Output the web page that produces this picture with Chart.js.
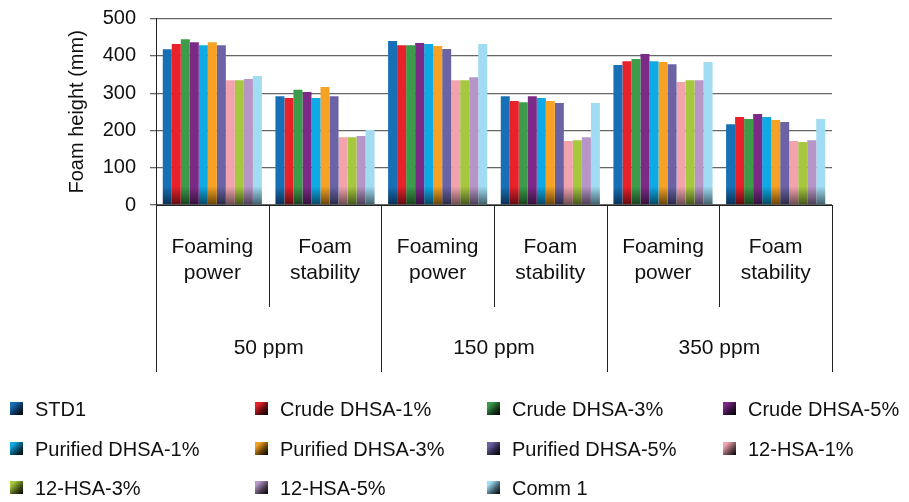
<!DOCTYPE html>
<html>
<head>
<meta charset="utf-8">
<script src="https://cdn.jsdelivr.net/npm/chart.js@4.4.0/dist/chart.umd.min.js"></script>
<style>
  body { margin: 0; background: #fff; }
  #wrap { position: relative; width: 909px; height: 502px; }
  #chart { position: absolute; left: 0; top: 0; }
  .item { position: absolute; font: 20px "Liberation Sans", Arial, sans-serif; color: #111; white-space: nowrap; line-height: 22px; }
  .box { position: absolute; left: -25px; top: 4px; width: 13px; height: 13px; }
</style>
</head>
<body>
<div id="wrap">
  <canvas id="chart" width="909" height="502"></canvas>
  <div id="legend"></div>
</div>
<script>
// categories
const innerLabels = [['Foaming', 'power'], ['Foam', 'stability'], ['Foaming', 'power'], ['Foam', 'stability'], ['Foaming', 'power'], ['Foam', 'stability']];
const outerLabels = ['50 ppm', '150 ppm', '350 ppm'];

// series
const seriesNames = ['STD1', 'Crude DHSA-1%', 'Crude DHSA-3%', 'Crude DHSA-5%', 'Purified DHSA-1%', 'Purified DHSA-3%', 'Purified DHSA-5%', '12-HSA-1%', '12-HSA-3%', '12-HSA-5%', 'Comm 1'];
const std1 = [418, 292, 440, 292, 376, 217];
const crude1 = [432, 287, 429, 279, 386, 236];
const crude3 = [445, 309, 429, 276, 392, 231];
const crude5 = [437, 303, 435, 292, 405, 244];
const purified1 = [429, 287, 432, 287, 386, 236];
const purified3 = [437, 317, 427, 279, 384, 228];
const purified5 = [429, 292, 419, 274, 378, 223];
const hsa1 = [335, 182, 335, 172, 330, 172];
const hsa3 = [335, 182, 335, 174, 335, 169];
const hsa5 = [338, 185, 343, 182, 335, 174];
const comm1 = [346, 201, 432, 274, 384, 231];
const seriesValues = [std1, crude1, crude3, crude5, purified1, purified3, purified5, hsa1, hsa3, hsa5, comm1];

// y ticks
const yTicks = [0, 100, 200, 300, 400, 500];

const colors = ['#1770b6', '#e8212b', '#3c9c4a', '#7c2a88', '#0fa9e6', '#f5a225', '#6a64a6', '#f2a4ae', '#a6c83e', '#b596c6', '#a2dcf2'];
const darks = ['#0a2f52', '#5e0c10', '#173f1e', '#33103a', '#05455e', '#664208', '#2a2846', '#6a4a4e', '#44541a', '#4a3c52', '#3e5e6a'];

const FONT = '"Liberation Sans", Arial, sans-serif';

function barFill(i) {
  return (ctx) => {
    const area = ctx.chart.chartArea;
    if (!area) return colors[i];
    const g = ctx.chart.ctx.createLinearGradient(0, area.top, 0, area.bottom);
    g.addColorStop(0, colors[i]);
    g.addColorStop(0.9, colors[i]);
    g.addColorStop(1, darks[i]);
    return g;
  };
}

// two level category axis drawn under the plot
const groupAxis = {
  id: 'groupAxis',
  afterDraw(chart) {
    const c = chart.ctx;
    const xs = chart.scales.x;
    const bottom = chart.chartArea.bottom;
    const step = (xs.right - xs.left) / innerLabels.length;
    c.save();
    c.strokeStyle = '#222';
    c.lineWidth = 1;
    for (let i = 0; i <= innerLabels.length; i++) {
      const x = Math.round(xs.left + i * step) + 0.5;
      const end = i % 2 === 0 ? 372 : 307;
      c.beginPath();
      c.moveTo(x, bottom);
      c.lineTo(x, end);
      c.stroke();
    }
    c.fillStyle = '#111';
    c.font = '21px ' + FONT;
    c.textAlign = 'center';
    c.textBaseline = 'middle';
    innerLabels.forEach((lines, i) => {
      const x = xs.getPixelForValue(i);
      c.fillText(lines[0], x, 247);
      c.fillText(lines[1], x, 273);
    });
    outerLabels.forEach((t, j) => {
      const x = xs.left + (2 * j + 1) * step;
      c.fillText(t, x, 348);
    });
    c.restore();
  }
};

new Chart(document.getElementById('chart'), {
  type: 'bar',
  data: {
    labels: innerLabels.map(l => l.join(' ')),
    datasets: seriesNames.map((name, i) => ({
      label: name,
      data: seriesValues[i],
      backgroundColor: barFill(i),
      borderWidth: 0,
      categoryPercentage: 0.88,
      barPercentage: 1.0
    }))
  },
  options: {
    responsive: false,
    animation: false,
    layout: { padding: { left: 65, right: 77, top: 18.7, bottom: 289 } },
    plugins: { legend: { display: false }, tooltip: { enabled: false } },
    scales: {
      x: {
        ticks: { display: false },
        grid: { display: false },
        border: { display: true, color: '#222', width: 1 }
      },
      y: {
        min: 0, max: 500,
        afterBuildTicks: (s) => { s.ticks = yTicks.map(v => ({ value: v })); },
        afterFit: (s) => { s.width = 91; },
        ticks: { color: '#111', font: { size: 20, family: FONT, lineHeight: 0.4 }, padding: 14 },
        grid: { color: '#666', lineWidth: 1.3, tickLength: 6 },
        border: { color: '#222', width: 1 },
        title: { display: true, text: 'Foam height (mm)', color: '#111', font: { size: 20, family: FONT }, padding: { top: 0, bottom: 0 } }
      }
    }
  },
  plugins: [groupAxis]
});

// legend as html, 4 columns
const colX = [35, 280, 512, 748];
const rowY = [398, 438, 477];
const legend = document.getElementById('legend');
seriesNames.forEach((name, i) => {
  const d = document.createElement('div');
  d.className = 'item';
  d.style.left = colX[i % 4] + 'px';
  d.style.top = rowY[Math.floor(i / 4)] + 'px';
  const b = document.createElement('span');
  b.className = 'box';
  b.style.background = `linear-gradient(135deg, ${colors[i]} 20%, ${darks[i]} 60%, #000 100%)`;
  d.appendChild(b);
  d.appendChild(document.createTextNode(name));
  legend.appendChild(d);
});
</script>
</body>
</html>
